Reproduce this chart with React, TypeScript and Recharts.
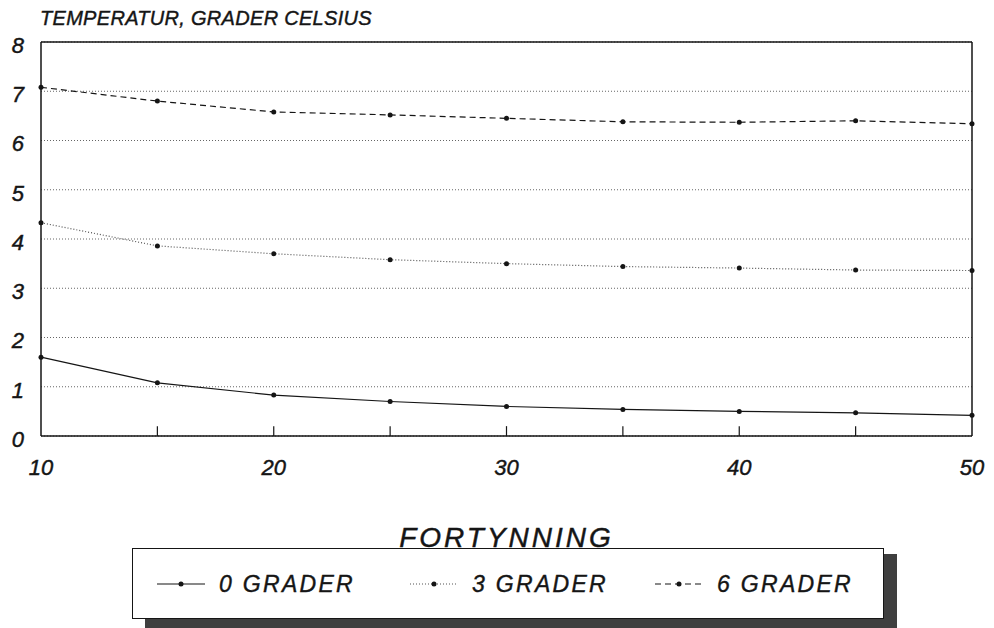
import { LineChart, Line, XAxis, YAxis, CartesianGrid, ReferenceLine } from 'recharts';

const fortynning = [10, 15, 20, 25, 30, 35, 40, 45, 50];
const grader0 = [1.6, 1.08, 0.83, 0.7, 0.6, 0.54, 0.5, 0.47, 0.42];
const grader3 = [4.33, 3.86, 3.7, 3.58, 3.5, 3.44, 3.41, 3.37, 3.36];
const grader6 = [7.08, 6.8, 6.58, 6.52, 6.45, 6.38, 6.37, 6.4, 6.34];
const seriesNames = ['0 GRADER', '3 GRADER', '6 GRADER'];
const xTicks = [10, 20, 30, 40, 50];
const minorTicks = [15, 20, 25, 30, 35, 40, 45];
const yTicks = [0, 1, 2, 3, 4, 5, 6, 7, 8];

const font = '"Liberation Sans", Arial, sans-serif';
const ink = '#151515';

const data = fortynning.map((x, i) => ({
  x,
  g0: grader0[i],
  g3: grader3[i],
  g6: grader6[i],
}));

const lineStyles = [
  { key: 'g0', stroke: ink, dash: undefined as string | undefined, width: 1.2 },
  { key: 'g3', stroke: '#555', dash: '1 2', width: 1.2 },
  { key: 'g6', stroke: ink, dash: '6 4', width: 1.2 },
];

// where each legend entry starts inside the legend box
const legendLeft = [24, 277, 522];

// scanned text looks a bit heavier than the plain regular face
const svgText = { fontStyle: 'italic', fill: ink, fontFamily: font, stroke: ink, strokeWidth: 0.45 };

function Swatch({ idx }: { idx: number }) {
  const s = lineStyles[idx];
  return (
    <svg width={48} height={14} style={{ display: 'block' }}>
      <line x1={0} y1={7} x2={48} y2={7} stroke={s.stroke} strokeWidth={s.width} strokeDasharray={s.dash} />
      <circle cx={24} cy={7} r={2.5} fill={ink} />
    </svg>
  );
}

export default function App() {
  return (
    <div
      style={{
        position: 'absolute',
        left: 0,
        top: 0,
        width: 994,
        height: 628,
        background: '#fff',
        fontFamily: font,
        overflow: 'hidden',
      }}
    >
      <div
        style={{
          position: 'absolute',
          left: 40,
          top: 8,
          fontSize: 20,
          lineHeight: '20px',
          fontStyle: 'italic',
          color: ink,
          letterSpacing: 0.3,
          WebkitTextStroke: '0.4px #151515',
        }}
      >
        TEMPERATUR, GRADER CELSIUS
      </div>

      <LineChart width={994} height={628} data={data} margin={{ top: 42, right: 22, left: 0, bottom: 101 }}>
        <CartesianGrid vertical={false} stroke="#666" strokeDasharray="1 2" />
        <XAxis
          dataKey="x"
          type="number"
          domain={[10, 50]}
          ticks={xTicks}
          height={91}
          axisLine={{ stroke: ink, strokeWidth: 1.5 }}
          tickLine={false}
          tickSize={6}
          tickMargin={17}
          tick={{ ...svgText, fontSize: 22 }}
          label={{
            value: 'FORTYNNING',
            position: 'bottom',
            offset: 0,
            style: { ...svgText, fontSize: 28, letterSpacing: 3 },
          }}
        />
        <YAxis
          type="number"
          domain={[0, 8]}
          ticks={yTicks}
          width={41}
          axisLine={{ stroke: ink, strokeWidth: 1.5 }}
          tickLine={false}
          tickSize={6}
          tickMargin={11}
          tick={{ ...svgText, fontSize: 22, dy: 3 }}
        />
        <ReferenceLine y={8} stroke={ink} strokeWidth={1.5} />
        <ReferenceLine x={50} stroke={ink} strokeWidth={1.5} />
        {minorTicks.map((t) => (
          <ReferenceLine
            key={t}
            segment={[
              { x: t, y: 0 },
              { x: t, y: 0.2 },
            ]}
            stroke={ink}
            strokeWidth={1.2}
          />
        ))}
        {lineStyles.map((s, i) => (
          <Line
            key={s.key}
            dataKey={s.key}
            name={seriesNames[i]}
            type="linear"
            stroke={s.stroke}
            strokeWidth={s.width}
            strokeDasharray={s.dash}
            dot={{ r: 2.5, fill: ink, stroke: 'none' }}
            activeDot={false}
            isAnimationActive={false}
          />
        ))}
      </LineChart>

      {/* legend with its shadow */}
      <div style={{ position: 'absolute', left: 145, top: 554, width: 752, height: 80, background: '#3f3f3f' }} />
      <div
        style={{
          position: 'absolute',
          left: 132,
          top: 548,
          width: 750,
          height: 69,
          background: '#fff',
          border: `1.5px solid ${ink}`,
        }}
      >
        {seriesNames.map((name, i) => (
          <div
            key={name}
            style={{
              position: 'absolute',
              left: legendLeft[i],
              top: 22,
              display: 'flex',
              alignItems: 'center',
              gap: 14,
            }}
          >
            <Swatch idx={i} />
            <span
              style={{
                fontSize: 23,
                fontStyle: 'italic',
                color: ink,
                letterSpacing: 2.3,
                lineHeight: '26px',
                WebkitTextStroke: '0.4px #151515',
              }}
            >
              {name}
            </span>
          </div>
        ))}
      </div>
    </div>
  );
}
